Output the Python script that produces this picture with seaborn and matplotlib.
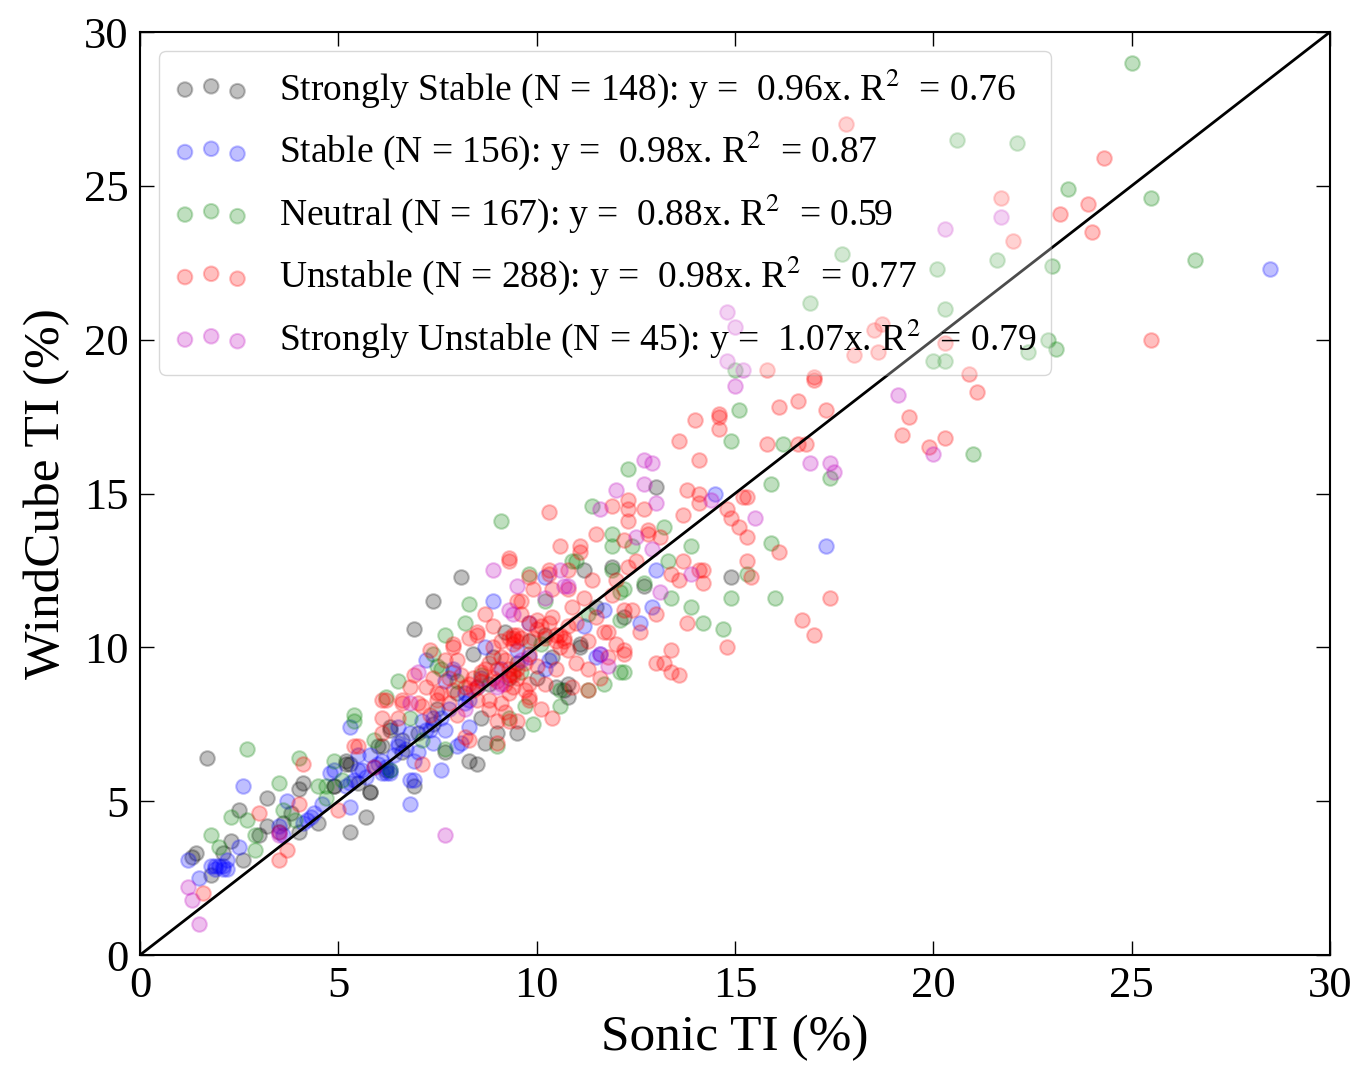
import numpy as np
import pandas as pd
import seaborn as sns
import matplotlib.pyplot as plt

sns.set_style("ticks")
plt.rcParams['font.family'] = ['Liberation Serif', 'DejaVu Serif']
plt.rcParams['mathtext.fontset'] = 'stix'
plt.rcParams['text.color'] = 'k'
plt.rcParams['axes.labelcolor'] = 'k'
plt.rcParams['xtick.color'] = 'k'
plt.rcParams['ytick.color'] = 'k'

# (Sonic TI, WindCube TI) pairs in %
strongly_stable = [
    (1.7, 6.4), (1.4, 3.3), (1.8, 2.6), (2.3, 3.7), (2.5, 4.7), (3.2, 5.1), (2.6, 3.1), (4.1, 5.6),
    (4.0, 5.4), (4.5, 4.3), (4.0, 4.0), (3.0, 3.9), (3.2, 4.2), (4.9, 5.5), (5.2, 6.2), (5.3, 4.0),
    (5.7, 4.5), (5.8, 5.3), (6.1, 6.8), (6.3, 7.3), (6.9, 5.5), (7.7, 6.6), (6.2, 6.0), (8.1, 12.3),
    (7.4, 11.5), (6.9, 10.6), (11.2, 12.5), (11.9, 12.6), (9.5, 7.2), (8.7, 6.9), (9.0, 7.2), (8.6, 7.7),
    (8.3, 6.3), (8.5, 6.2), (10.8, 8.8), (10.5, 8.7), (11.1, 10.0), (10.8, 8.4), (8.4, 9.8), (9.2, 10.5),
    (6.3, 7.4), (6.0, 6.8), (5.2, 6.3), (13.0, 15.2), (12.7, 12.0), (14.9, 12.3), (11.1, 10.1), (10.7, 8.6),
    (7.5, 8.0), (8.0, 8.5), (9.5, 9.5), (10.0, 9.0), (7.0, 7.2), (6.6, 6.6), (8.8, 8.8), (9.8, 10.2),
    (10.4, 9.7), (12.2, 11.0), (5.3, 6.2), (5.8, 5.3), (1.3, 3.2), (2.1, 3.3), (4.9, 5.5), (5.5, 5.6),
    (7.4, 7.5), (9.3, 9.0), (10.2, 10.4), (11.5, 11.3), (3.6, 4.3), (3.8, 4.6), (6.6, 7.0), (8.9, 9.7),
]
stable = [
    (2.6, 5.5), (1.2, 3.1), (1.5, 2.5), (1.8, 2.9), (2.1, 2.8), (2.2, 3.1), (2.5, 3.5), (3.7, 5.0),
    (4.2, 4.4), (4.4, 4.6), (4.6, 4.9), (3.5, 4.0), (4.8, 5.9), (5.2, 5.5), (5.3, 4.8), (5.5, 6.0),
    (5.8, 6.5), (6.3, 5.9), (6.5, 6.8), (6.8, 4.9), (6.9, 5.7), (7.6, 6.0), (5.3, 7.4), (6.9, 6.3),
    (7.4, 6.9), (8.9, 11.5), (4.9, 6.0), (7.2, 9.6), (7.7, 8.9), (7.9, 9.3), (10.2, 12.3), (11.5, 9.7),
    (8.0, 6.8), (6.5, 6.9), (6.8, 7.2), (7.1, 7.6), (7.4, 7.7), (7.8, 8.0), (8.2, 8.2), (8.3, 7.4),
    (8.5, 8.7), (9.8, 9.7), (10.3, 9.6), (11.2, 10.7), (11.7, 11.2), (6.1, 6.3), (6.3, 6.0), (5.6, 6.0),
    (13.0, 12.5), (12.6, 10.8), (12.9, 11.3), (11.6, 9.8), (14.5, 15.0), (17.3, 13.3), (28.5, 22.3),
    (7.9, 9.2), (9.8, 10.8), (10.2, 9.3), (8.7, 10.0), (8.3, 8.3), (6.8, 5.7), (6.5, 7.4), (6.7, 6.7),
    (7.3, 7.3), (7.7, 7.3), (8.1, 6.9), (5.3, 5.6), (5.5, 6.5), (6.2, 5.9), (7.0, 6.6), (8.2, 8.5),
    (1.9, 2.8), (2.0, 2.9), (4.1, 4.3), (5.9, 6.1), (6.0, 6.2), (1.9, 2.9), (2.1, 2.9), (2.2, 2.8),
    (3.6, 3.9), (3.5, 4.2), (4.3, 4.5), (5.4, 5.7), (5.7, 5.8), (6.1, 5.9), (6.2, 6.1), (6.4, 6.5),
    (7.2, 7.3), (7.6, 7.7), (8.6, 9.0), (9.1, 9.3), (9.5, 9.9),
]
neutral = [
    (2.7, 6.7), (3.5, 5.6), (4.0, 6.4), (4.9, 6.3), (4.5, 5.5), (4.7, 5.5), (2.3, 4.5), (2.7, 4.4),
    (1.8, 3.9), (2.0, 3.5), (2.9, 3.9), (2.9, 3.4), (3.6, 4.7), (5.9, 7.0), (4.7, 5.1), (5.4, 7.6),
    (8.3, 11.4), (8.2, 10.8), (7.7, 10.4), (6.5, 8.9), (6.2, 8.4), (5.4, 7.8), (7.5, 9.4), (7.4, 9.8),
    (10.6, 8.1), (11.7, 8.8), (12.1, 9.2), (12.2, 11.9), (12.1, 10.9), (9.9, 7.5), (9.7, 8.1), (9.8, 12.4),
    (11.0, 12.8), (11.3, 8.6), (10.2, 11.5), (9.0, 6.8), (7.7, 6.7), (9.1, 14.1), (11.4, 14.6), (11.9, 13.3),
    (11.9, 13.7), (13.2, 13.9), (13.3, 12.8), (13.9, 13.3), (13.9, 11.3), (14.2, 10.8), (11.9, 12.5), (12.1, 11.8),
    (10.9, 12.8), (12.4, 13.3), (12.7, 12.1), (16.2, 16.6), (15.9, 15.3), (17.4, 15.5), (12.3, 15.8), (15.9, 13.4),
    (14.9, 11.6), (16.0, 11.6), (14.7, 10.6), (13.4, 11.6), (15.3, 12.4), (12.2, 9.2), (15.1, 17.7), (14.9, 16.7),
    (20.0, 19.3), (20.3, 19.3), (15.0, 19.0), (21.0, 16.3), (25.0, 29.0), (20.6, 26.5), (22.1, 26.4), (23.4, 24.9),
    (25.5, 24.6), (26.6, 22.6), (21.6, 22.6), (23.0, 22.4), (20.1, 22.3), (20.3, 21.0), (22.9, 20.0), (23.1, 19.7),
    (22.4, 19.6), (17.7, 22.8), (16.9, 21.2), (7.6, 9.3), (9.3, 7.7), (11.3, 11.1), (10.6, 8.6), (6.8, 7.7),
    (7.1, 7.0), (6.3, 6.0), (3.9, 4.4), (5.1, 5.7), (8.6, 9.1), (10.1, 10.1), (8.0, 8.9), (9.6, 9.2),
]
unstable = [
    (1.6, 2.0), (3.5, 3.1), (3.7, 3.4), (3.0, 4.6), (4.0, 4.9), (5.0, 4.7), (4.1, 6.2), (5.5, 6.8),
    (7.1, 6.2), (3.5, 4.0), (9.3, 12.8), (10.3, 12.4), (10.4, 11.9), (10.8, 11.9), (9.5, 11.5), (8.7, 11.1),
    (8.9, 10.7), (8.5, 10.5), (8.3, 10.3), (7.9, 10.0), (7.3, 9.9), (7.7, 9.6), (8.0, 9.6), (6.9, 9.1),
    (6.6, 8.3), (6.1, 8.3), (6.1, 7.7), (5.4, 6.8), (7.0, 8.2), (7.2, 8.7), (7.5, 8.5), (9.4, 10.4),
    (9.5, 9.3), (9.2, 9.6), (8.6, 9.2), (9.8, 8.4), (10.1, 8.0), (10.4, 7.7), (9.3, 7.6), (9.1, 8.2),
    (8.8, 8.0), (9.0, 6.9), (8.3, 7.0), (9.8, 10.8), (10.0, 10.9), (10.5, 10.4), (10.8, 10.7), (11.3, 10.2),
    (11.8, 10.5), (12.0, 10.1), (12.2, 9.9), (11.3, 9.3), (11.6, 9.0), (11.0, 9.5), (10.2, 8.8), (9.8, 8.8),
    (9.4, 8.7), (8.5, 8.3), (8.2, 8.7), (12.2, 11.2), (11.4, 12.2), (12.3, 12.6), (6.1, 7.2), (7.1, 8.1),
    (10.7, 10.2), (13.8, 15.1), (14.1, 15.0), (14.1, 14.7), (13.7, 14.3), (12.7, 14.5), (12.3, 14.5), (12.3, 14.8),
    (11.9, 14.6), (12.3, 14.1), (11.5, 13.7), (11.1, 13.3), (11.1, 13.1), (10.6, 13.3), (10.3, 14.4), (9.3, 12.9),
    (12.8, 13.7), (12.2, 13.5), (12.5, 12.8), (13.7, 12.8), (14.2, 12.5), (14.2, 12.1), (13.6, 12.2), (13.4, 12.4),
    (13.0, 11.1), (13.8, 10.8), (13.4, 9.9), (13.0, 9.5), (13.2, 9.5), (13.4, 9.2), (13.6, 9.1), (12.4, 11.2),
    (9.8, 12.3), (9.6, 11.5), (10.3, 12.5), (12.2, 9.8), (11.3, 8.6), (17.0, 18.7), (16.6, 18.0), (16.1, 17.8),
    (17.3, 17.7), (14.0, 17.4), (14.6, 17.6), (14.6, 17.1), (13.6, 16.7), (14.1, 16.1), (15.8, 16.6), (16.6, 16.6),
    (16.8, 16.6), (14.9, 14.2), (15.1, 13.9), (15.3, 13.6), (16.1, 13.1), (15.3, 12.8), (15.4, 12.3), (15.2, 14.9),
    (15.3, 14.9), (14.8, 14.5), (17.4, 11.6), (16.7, 10.9), (17.0, 10.4), (14.8, 10.0), (14.1, 12.5), (12.8, 13.8),
    (13.1, 13.6), (18.7, 20.5), (18.5, 20.3), (18.6, 19.6), (18.0, 19.5), (20.3, 19.9), (15.8, 19.0), (17.0, 18.8),
    (20.9, 18.9), (21.1, 18.3), (19.4, 17.5), (19.2, 16.9), (20.3, 16.8), (19.9, 16.5), (14.6, 17.5), (17.8, 27.0),
    (24.3, 25.9), (21.7, 24.6), (23.9, 24.4), (23.2, 24.1), (24.0, 23.5), (22.0, 23.2), (25.5, 20.0), (8.5, 10.4),
    (7.9, 10.1), (9.3, 10.3), (9.5, 10.4), (9.4, 9.2), (10.5, 10.2), (10.3, 10.8), (10.0, 10.6), (9.8, 9.8),
    (9.1, 9.7), (8.7, 9.3), (8.4, 9.0), (9.0, 8.9), (9.7, 8.6), (9.3, 8.5), (9.8, 8.3), (8.8, 8.3),
    (8.3, 8.8), (7.9, 8.6), (7.6, 8.5), (10.9, 8.7), (11.7, 10.5), (10.8, 9.9), (9.6, 11.1), (9.2, 7.9),
    (8.0, 7.8), (9.0, 7.6), (7.5, 8.3), (9.5, 7.6), (6.2, 8.3), (6.6, 8.2), (5.9, 6.1), (8.2, 7.1),
    (9.4, 10.1), (9.6, 10.3), (9.3, 9.1), (9.5, 9.0), (10.6, 10.0), (10.2, 10.3), (8.9, 9.0), (9.2, 8.8),
    (9.4, 10.3), (9.5, 10.2), (9.3, 9.3), (9.4, 9.1), (10.7, 10.3), (10.6, 10.4), (8.4, 8.6), (8.5, 8.7),
    (8.1, 9.1), (8.8, 9.5), (9.9, 10.3), (10.1, 10.7), (10.4, 11.0), (11.0, 10.8), (11.5, 11.0), (11.2, 11.6),
    (10.9, 11.3), (9.7, 9.5), (9.0, 9.3), (8.6, 8.9), (7.8, 8.2), (7.3, 7.8), (7.8, 9.0), (10.5, 9.3),
    (11.9, 11.7), (12.0, 12.2), (10.8, 12.5), (9.9, 11.9), (9.1, 10.2), (7.4, 9.0), (6.5, 7.7), (6.8, 8.7),
    (11.8, 9.7), (12.6, 10.5), (10.0, 9.4), (8.9, 10.0),
]
strongly_unstable = [
    (1.2, 2.2), (1.3, 1.8), (1.5, 1.0), (7.7, 3.9), (3.5, 3.9), (8.9, 12.5), (9.5, 12.0), (10.6, 12.5),
    (10.7, 12.0), (7.0, 9.2), (9.1, 8.8), (9.4, 11.1), (10.2, 11.6), (11.8, 9.4), (12.0, 15.1), (12.7, 15.3),
    (13.0, 14.7), (11.6, 14.5), (12.5, 13.6), (12.9, 13.2), (13.9, 12.4), (13.1, 11.8), (10.8, 12.0), (15.0, 18.5),
    (12.7, 16.1), (12.9, 16.0), (15.5, 14.2), (17.4, 16.0), (17.5, 15.7), (14.4, 14.8), (11.6, 9.8), (15.0, 20.4),
    (14.8, 19.3), (15.2, 19.0), (14.8, 20.9), (19.1, 18.2), (20.0, 16.3), (16.9, 16.0), (21.7, 24.0), (20.3, 23.6),
    (9.0, 8.7), (9.3, 11.2), (6.8, 8.2), (8.2, 8.0), (9.6, 9.6),
]

groups = [strongly_stable, stable, neutral, unstable, strongly_unstable]
labels = [
    "Strongly Stable (N = 148): y =  0.96x. R$^2$  = 0.76",
    "Stable (N = 156): y =  0.98x. R$^2$  = 0.87",
    "Neutral (N = 167): y =  0.88x. R$^2$  = 0.59",
    "Unstable (N = 288): y =  0.98x. R$^2$  = 0.77",
    "Strongly Unstable (N = 45): y =  1.07x. R$^2$  = 0.79",
]
colors = ['k', 'b', 'g', 'r', 'm']

fig, ax = plt.subplots(figsize=(13.55, 10.68), dpi=100)
fig.subplots_adjust(left=0.1033, right=0.9815, bottom=0.1058, top=0.97)

for pts, lab, c in zip(groups, labels, colors):
    df = pd.DataFrame(pts, columns=['sonic', 'windcube'])
    sns.scatterplot(data=df, x='sonic', y='windcube', color=c, edgecolor=c,
                    alpha=0.25, s=110, linewidth=1.5, label=lab, ax=ax)

# 1:1 line
ax.plot([0, 30], [0, 30], color='k', lw=2)

ax.set_xlim(0, 30)
ax.set_ylim(0, 30)
ax.set_xticks(range(0, 31, 5))
ax.set_yticks(range(0, 31, 5))
ax.tick_params(direction='in', length=10, width=1, top=True, right=True,
               labelsize=32, pad=8)
for sp in ax.spines.values():
    sp.set_linewidth(1.5)
    sp.set_color('k')

ax.set_xlabel('Sonic TI (%)', fontsize=37, labelpad=6)
ax.set_ylabel('WindCube TI (%)', fontsize=37, labelpad=10)

leg = ax.legend(loc='upper left', scatterpoints=3, scatteryoffsets=[0.375, 0.5, 0.3125],
                fontsize=27, labelspacing=0.5, handlelength=2.0, handletextpad=0.8,
                borderpad=0.4, borderaxespad=0.5, frameon=True, fancybox=True,
                framealpha=0.3, edgecolor='0.5')

plt.savefig('out.png', dpi=100)
